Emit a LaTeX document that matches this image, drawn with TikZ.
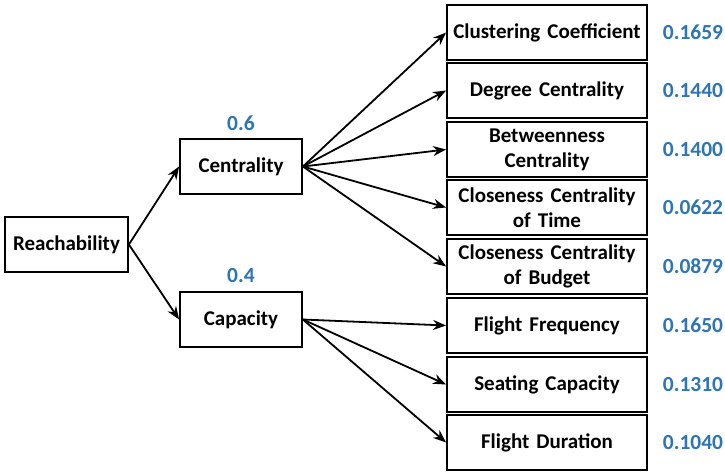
\documentclass[tikz,border=0pt]{standalone}
\usepackage{fontspec}
\setmainfont{Carlito}
\usetikzlibrary{arrows.meta}
\definecolor{valblue}{RGB}{46,117,182}
\begin{document}
\begin{tikzpicture}[x=1pt,y=-1pt,
  box/.style={draw, line width=1.8pt, minimum height=55pt, align=center, inner sep=0pt,
    font=\fontsize{21}{25}\selectfont\bfseries},
  rbox/.style={box, minimum width=200pt, text width=196pt},
  val/.style={text=valblue, font=\fontsize{21.5}{24}\selectfont\bfseries},
  arr/.style={-{Stealth[length=13pt,width=10pt]}, line width=1.8pt}]
\useasboundingbox (0,0) rectangle (725,472);
\node[box, minimum width=123pt] (reach) at (66.5,244.5) {Reachability};
\node[box, minimum width=122pt] (cent) at (241,166.5) {Centrality};
\node[box, minimum width=122pt] (cap) at (241,319.5) {Capacity};
\node[val] (v06) at (241,123) {0.6};
\node[val] (v04) at (241,276) {0.4};
\node[rbox] (c1) at (547,32.5) {Clustering Coefficient};
\node[rbox] (c2) at (547,90.5) {Degree Centrality};
\node[rbox] (c3) at (547,149.5) {Betweenness\\Centrality};
\node[rbox] (c4) at (547,207.5) {Closeness Centrality\\of Time};
\node[rbox] (c5) at (547,266.5) {Closeness Centrality\\of Budget};
\node[rbox] (c6) at (547,325.5) {Flight Frequency};
\node[rbox] (c7) at (547,384.5) {Seating Capacity};
\node[rbox] (c8) at (547,442.5) {Flight Duration};
\node[val] (w1) at (693,32.5) {0.1659};
\node[val] (w2) at (693,90.5) {0.1440};
\node[val] (w3) at (693,149.5) {0.1400};
\node[val] (w4) at (693,207.5) {0.0622};
\node[val] (w5) at (693,266.5) {0.0879};
\node[val] (w6) at (693,325.5) {0.1650};
\node[val] (w7) at (693,384.5) {0.1310};
\node[val] (w8) at (693,442.5) {0.1040};
\draw[arr] (reach.east) -- (cent.west);
\draw[arr] (reach.east) -- (cap.west);
\foreach \i in {1,...,5} \draw[arr] (cent.east) -- (c\i.west);
\foreach \i in {6,7,8} \draw[arr] (cap.east) -- (c\i.west);
\end{tikzpicture}
\end{document}
